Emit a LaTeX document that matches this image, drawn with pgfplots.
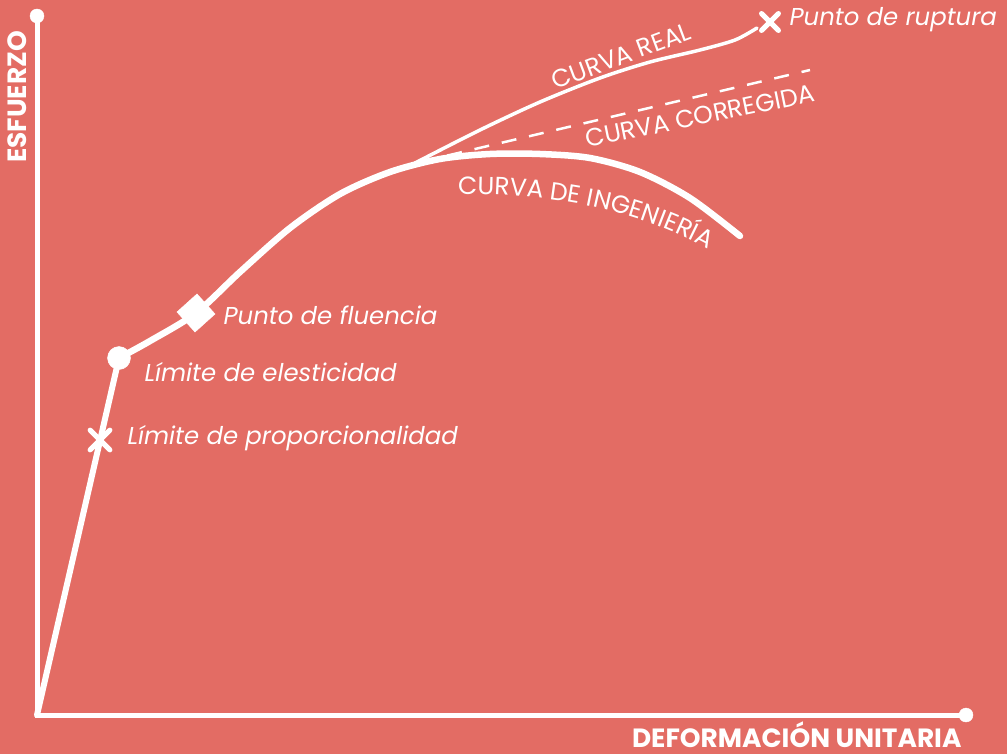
\documentclass[border=0pt]{standalone}
\usepackage{fontspec}
\setmainfont{Poppins}
\usepackage{pgfplots}
\pgfplotsset{compat=1.18}
\usetikzlibrary{decorations.text}
\definecolor{bgsalmon}{RGB}{227,108,100}

\begin{document}
\begin{tikzpicture}
\begin{axis}[
  width=1007bp, height=754bp, scale only axis,
  xmin=0, xmax=1007, ymin=0, ymax=754,
  y dir=reverse,
  hide axis, clip=false,
]
% background
\fill[bgsalmon] (axis cs:0,0) rectangle (axis cs:1007,754);

% axes with round ends
\addplot[white, line width=5bp] coordinates {(37,16)(37,715)(966,715)};
\addplot[only marks, mark=*, mark size=7bp, white] coordinates {(37,16)(966,715)};

% elastic part
\addplot[white, line width=6bp, line cap=round] coordinates {(37,715)(119,358)};
% engineering curve
\addplot[white, line width=6.5bp, line cap=round, smooth] coordinates {
  (119,358)(150,341)(196,313)(240,272)(290,228)(340,194)(390,172)(440,159)
  (490,154)(540,154)(590,158)(640,172)(690,198)(740,236)};
% real curve
\addplot[white, line width=3.5bp, line cap=round, smooth] coordinates {
  (415,163)(480,130)(540,102)(600,78)(650,62)(700,50)(735,40)(757,28)};
% corrected curve
\addplot[white, line width=2.5bp, dash pattern=on 15bp off 13bp] coordinates {(420,162)(810,70)};

% markers
\addplot[only marks, mark=*, mark size=11.5bp, white] coordinates {(119,358)};
\addplot[only marks, mark=square*, mark size=13.5bp, white, mark options={rotate=42}] coordinates {(196,313)};
\addplot[only marks, mark=x, mark size=14bp, white, mark options={line width=5bp, line cap=round}] coordinates {(100,440)};
\addplot[only marks, mark=x, mark size=12bp, white, mark options={line width=5bp, line cap=round}] coordinates {(770,22)};

% labels
\node[white, font=\fontsize{24.5}{26}\selectfont\itshape, anchor=west] at (axis cs:220,315) {Punto de fluencia};
\node[white, font=\fontsize{24.5}{26}\selectfont\itshape, anchor=west] at (axis cs:141,372) {Límite de elesticidad};
\node[white, font=\fontsize{24.5}{26}\selectfont\itshape, anchor=west] at (axis cs:124,438) {Límite de proporcionalidad};
\node[white, font=\fontsize{24.5}{26}\selectfont\itshape, anchor=west] at (axis cs:786,20) {Punto de ruptura};

\node[white, font=\fontsize{25}{26}\selectfont, rotate=20.5] at (axis cs:621,56) {CURVA REAL};
\node[white, font=\fontsize{25}{26}\selectfont, rotate=11.5] at (axis cs:700,116) {CURVA CORREGIDA};
\path[decorate, decoration={text along path, text align=center,
  text={|\fontsize{25}{26}\selectfont\color{white}|CURVA DE INGENIERÍA}}]
  (axis cs:442,195) .. controls (axis cs:560,191) and (axis cs:650,213) .. (axis cs:722,257);

\node[white, font=\fontsize{26.5}{28}\selectfont\bfseries, anchor=base east] at (axis cs:965,747) {DEFORMACIÓN UNITARIA};
\node[white, font=\fontsize{26.5}{28}\selectfont\bfseries, rotate=90, anchor=base] at (axis cs:26,97) {ESFUERZO};
\end{axis}
\end{tikzpicture}
\end{document}
